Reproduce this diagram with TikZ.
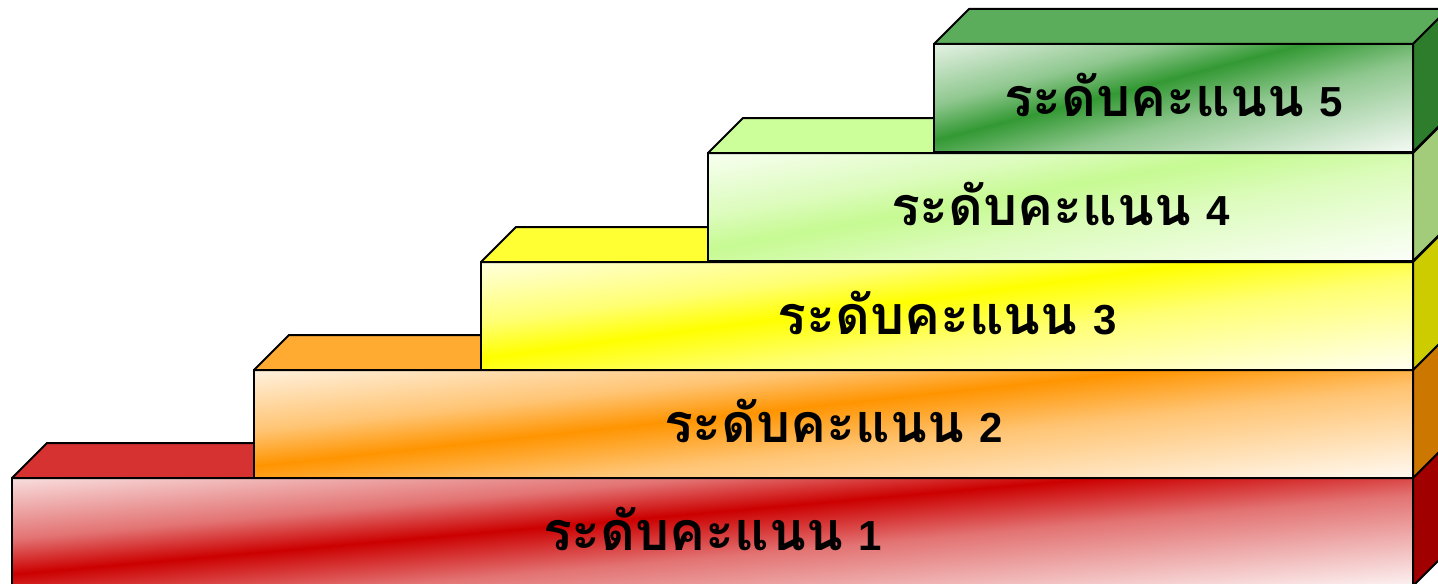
\documentclass[tikz,border=0pt]{standalone}
\usepackage{fontspec}
\newfontfamily\thaifont[Script=Thai, Scale=1.28]{Loma}
\newfontfamily\latinbold{Liberation Sans}
\definecolor{bandRed}{HTML}{CC0000}
\definecolor{topRed}{HTML}{D63232}
\definecolor{sideRed}{HTML}{A00000}
\definecolor{bandOrange}{HTML}{FF9400}
\definecolor{topOrange}{HTML}{FFAA30}
\definecolor{sideOrange}{HTML}{CC7700}
\definecolor{bandYellow}{HTML}{FFFF00}
\definecolor{topYellow}{HTML}{FFFF33}
\definecolor{sideYellow}{HTML}{CCCC00}
\definecolor{bandLime}{HTML}{C6FA92}
\definecolor{topLime}{HTML}{CCFF99}
\definecolor{sideLime}{HTML}{A3CC7A}
\definecolor{bandGreen}{HTML}{339933}
\definecolor{topGreen}{HTML}{5BAD5B}
\definecolor{sideGreen}{HTML}{2D7D2D}
\pgfdeclareverticalshading{shRed}{100bp}{color(0bp)=(white); color(25bp)=(white); color(45bp)=(bandRed!55!white); color(54bp)=(bandRed); color(61bp)=(bandRed!55!white); color(75bp)=(bandRed!7!white); color(100bp)=(bandRed!7!white)}
\pgfdeclareverticalshading{shOrange}{100bp}{color(0bp)=(white); color(25bp)=(white); color(45bp)=(bandOrange!55!white); color(54bp)=(bandOrange); color(61bp)=(bandOrange!55!white); color(75bp)=(bandOrange!7!white); color(100bp)=(bandOrange!7!white)}
\pgfdeclareverticalshading{shYellow}{100bp}{color(0bp)=(white); color(25bp)=(white); color(45bp)=(bandYellow!55!white); color(54bp)=(bandYellow); color(61bp)=(bandYellow!55!white); color(75bp)=(bandYellow!7!white); color(100bp)=(bandYellow!7!white)}
\pgfdeclareverticalshading{shLime}{100bp}{color(0bp)=(white); color(25bp)=(white); color(45bp)=(bandLime!60!white); color(54bp)=(bandLime); color(61bp)=(bandLime!60!white); color(75bp)=(bandLime!7!white); color(100bp)=(bandLime!7!white)}
\pgfdeclareverticalshading{shGreen}{100bp}{color(0bp)=(white); color(25bp)=(white); color(45bp)=(bandGreen!55!white); color(54bp)=(bandGreen); color(61bp)=(bandGreen!55!white); color(75bp)=(bandGreen!7!white); color(100bp)=(bandGreen!7!white)}
\tikzset{
  stepfront/.style={draw=black, line width=1pt, inner sep=0pt, outer sep=0pt,
    minimum height=54pt, anchor=north west,
    font=\bfseries\fontsize{21pt}{25pt}\selectfont, text=black},
  stepface/.style={draw=black, line width=1pt, line join=round},
}
\begin{document}
\begin{tikzpicture}[x=0.5pt, y=-0.5pt]
\useasboundingbox (0,0) rectangle (1438,583);
\clip (0,0) rectangle (1438,583);
\foreach \n/\L/\T/\sh/\tc/\sc in {1/12/478/shRed/topRed/sideRed,
    2/254/370/shOrange/topOrange/sideOrange,
    3/481/262/shYellow/topYellow/sideYellow,
    4/708/153/shLime/topLime/sideLime,
    5/934/44/shGreen/topGreen/sideGreen} {
  \pgfmathsetmacro\W{1413-\L}
  \pgfmathsetmacro\w{\W*0.5}
  \pgfmathsetmacro\cx{(\L+1413)/2}
  \pgfmathsetmacro\B{\T+108}
  \pgfmathsetmacro\ya{\T+54-125}
  \pgfmathsetmacro\yb{\T+54+125}
  \pgfmathsetmacro\s{1.15*108/\W}
  \pgfmathsetmacro\ty{-\s*\cx*0.5}
  \begin{scope}
    \clip (\L,\T) rectangle (1413,\B);
    \begin{scope}[transform canvas={cm={1,\s,0,1,(0pt,\ty pt)}}]
      \shade[shading=\sh] (\L,\ya) rectangle (1413,\yb);
    \end{scope}
  \end{scope}
  \node[stepfront, minimum width=\w pt] (f\n) at (\L,\T) {\raisebox{3pt}{{\thaifont ระดับคะแนน} {\latinbold\n}}};
  \filldraw[stepface, fill=\tc] (f\n.north west) -- ++(35,-35) -- ([shift={(35,-35)}]f\n.north east) -- (f\n.north east) -- cycle;
  \filldraw[stepface, fill=\sc] (f\n.north east) -- ++(35,-35) -- ([shift={(35,-35)}]f\n.south east) -- (f\n.south east) -- cycle;
}
\end{tikzpicture}
\end{document}
